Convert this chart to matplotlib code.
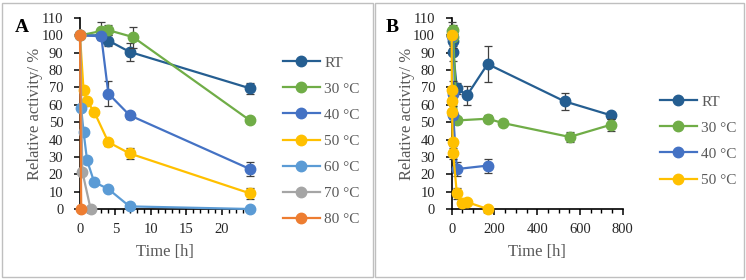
import numpy as np, matplotlib
matplotlib.use("Agg"); import matplotlib.pyplot as plt
from matplotlib.patches import Rectangle
from matplotlib.ticker import MultipleLocator
plt.rcParams['font.family'] = ['Liberation Serif', 'DejaVu Serif']

# series: time [h], relative activity [%], error
rt_t  = [0, 3, 4, 7, 24, 72, 168, 528, 744]
rt_y  = [100, 100, 97, 90.5, 69.5, 65.5, 83.5, 62, 54]
rt_e  = [0, 0, 3, 5, 3, 5.5, 10.5, 5, 2]
c30_t = [0, 3, 4, 7.5, 24, 168, 240, 552, 744]
c30_y = [100, 102.5, 103, 99, 51, 52, 49.5, 41.5, 48.5]
c30_e = [0, 5, 3, 6, 1.5, 2, 0, 3, 3.5]
c40_t = [0, 3, 4, 7, 24, 168]
c40_y = [100, 99.5, 66.5, 54, 23, 25]
c40_e = [0, 0, 7, 2, 4, 4]
c50_t = [0, 0.5, 1, 2, 4, 7, 24, 48, 72, 168]
c50_y = [100, 68.5, 62, 56, 38.5, 32, 9, 3.5, 4, 0]
c50_e = [0, 0, 0, 0, 2, 3, 3, 0, 0, 0]
c60_t = [0, 0.17, 0.5, 1, 2, 4, 7, 24]
c60_y = [100, 58, 44.5, 28, 15.5, 11.5, 1.5, 0]
c70_t = [0, 0.33, 1.5]
c70_y = [100, 21.5, 0]
c80_t = [0, 0.17]
c80_y = [100, 0]
labels = ["RT", "30 °C", "40 °C", "50 °C", "60 °C", "70 °C", "80 °C"]
colors = ["#255E91", "#70AD47", "#4472C4", "#FFC000", "#5B9BD5", "#A5A5A5", "#ED7D31"]

series = [(rt_t, rt_y, rt_e), (c30_t, c30_y, c30_e), (c40_t, c40_y, c40_e), (c50_t, c50_y, c50_e),
          (c60_t, c60_y, None), (c70_t, c70_y, None), (c80_t, c80_y, None)]

W, H = 746, 280
fig = plt.figure(figsize=(W/100, H/100), dpi=100)
for x0, x1 in [(2, 373), (375, 744)]:
    fig.patches.append(Rectangle((x0/W, 3/H), (x1-x0)/W, 274/H, transform=fig.transFigure,
                                 fill=False, ec="#BFBFBF", lw=1))

def panel(rect, nser, tmax, xmax, xmaj, xmin, letter, lx, legxy):
    ax = fig.add_axes(rect)
    for i in range(nser):
        t, y, e = series[i]
        t = np.array(t); y = np.array(y); m = t <= tmax
        ax.plot(t[m], y[m], '-o', color=colors[i], lw=1.6, ms=7.5, label=labels[i], clip_on=False, zorder=3+i)
        if e is not None:
            e = np.array(e)[m]
            ax.errorbar(t[m], y[m], yerr=e, fmt='none', ecolor="#404040", elinewidth=0.9, capsize=3,
                        capthick=0.9, zorder=2+i, clip_on=False)
    ax.set_xlim(0, xmax); ax.set_ylim(0, 110)
    ax.xaxis.set_major_locator(MultipleLocator(xmaj)); ax.xaxis.set_minor_locator(MultipleLocator(xmin))
    ax.yaxis.set_major_locator(MultipleLocator(10))
    for s in ["top", "right"]: ax.spines[s].set_visible(False)
    for s in ["left", "bottom"]: ax.spines[s].set_linewidth(1.2)
    ax.tick_params(which='both', direction='out', labelsize=10.5, colors='black', labelcolor='#262626')
    ax.tick_params(which='major', length=4, width=1.1); ax.tick_params(which='minor', length=3, width=1)
    ax.tick_params(axis='y', pad=8); ax.tick_params(axis='x', pad=6)
    ax.set_xlabel("Time [h]", fontsize=12, color="#595959", labelpad=6)
    ax.set_ylabel("Relative activity/ %", fontsize=12, color="#595959")
    ax.yaxis.set_label_coords(-37/(rect[2]*W), 0.5)
    fig.text(lx/W, 1-28/H, letter, fontsize=14, fontweight='bold', va='center', ha='left')
    ax.legend(loc='upper left', bbox_to_anchor=(legxy[0]/W, 1-legxy[1]/H), bbox_transform=fig.transFigure,
              frameon=False, fontsize=11, labelcolor="#595959", handlelength=2.4, handletextpad=0.3,
              labelspacing=0.81, borderpad=0, borderaxespad=0)
    return ax

panel([80/W, 71/H, 170/W, 191/H], 7, 24, 24, 5, 1, "A", 15, (283, 56))
panel([451.7/W, 71/H, 171/W, 191/H], 4, 1000, 800, 200, 50, "B", 386, (660, 95))
fig.savefig("out.png", dpi=100)
